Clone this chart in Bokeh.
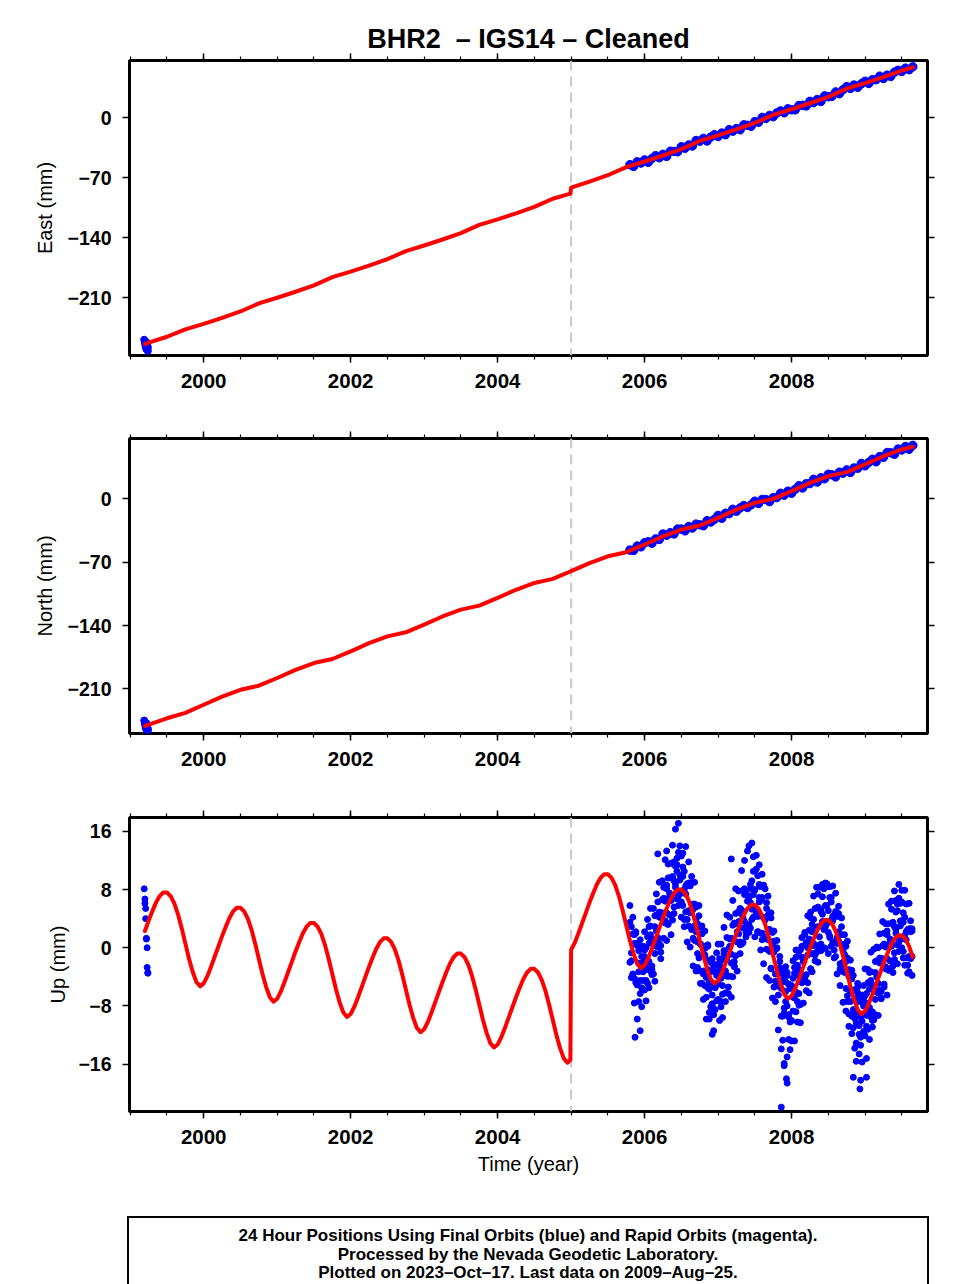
from bokeh.plotting import figure
from bokeh.models import FixedTicker, LinearAxis, Span, Range1d, Div
from bokeh.layouts import column
from bokeh.embed import file_html
from bokeh.resources import INLINE

FONT = "Liberation Sans"

# ---------------- axes / labels ----------------
title_text = "BHR2\u00a0\u00a0\u2013 IGS14 \u2013 Cleaned"
year_ticks = [2000, 2002, 2004, 2006, 2008]
half_year_ticks = [1999.0, 1999.5, 2000.0, 2000.5, 2001.0, 2001.5, 2002.0, 2002.5, 2003.0, 2003.5,
                   2004.0, 2004.5, 2005.0, 2005.5, 2006.0, 2006.5, 2007.0, 2007.5, 2008.0, 2008.5,
                   2009.0, 2009.5]
east_ticks = [-210, -140, -70, 0]
north_ticks = [-210, -140, -70, 0]
up_ticks = [-16, -8, 0, 8, 16]
step_epoch = 2005.0
footer_lines = ["24 Hour Positions Using Final Orbits (blue) and Rapid Orbits (magenta).",
                "Processed by the Nevada Geodetic Laboratory.",
                "Plotted on 2023\u2013Oct\u201317. Last data on 2009\u2013Aug\u201325."]

# ---------------- first epoch observations (1999) ----------------
early_t = [1999.19, 1999.20, 1999.20, 1999.21, 1999.21, 1999.22, 1999.22, 1999.23, 1999.23, 1999.24, 1999.24]
early_east = [-259, -261, -263, -265, -267, -270, -262, -264, -266, -268, -272]
early_north = [-245, -247, -249, -251, -253, -255, -248, -250, -252, -254, -256]
early_up = [8.1, 6.7, 6.1, 5.4, 4.0, 1.3, 1.2, 0.0, -2.7, -3.4, -3.5]

# ---------------- East / North model (red) ----------------
en_fit_t = [1999.20, 1999.25, 1999.50, 1999.75, 2000.00, 2000.25, 2000.50, 2000.75,
            2001.00, 2001.25, 2001.50, 2001.75, 2002.00, 2002.25, 2002.50, 2002.75,
            2003.00, 2003.25, 2003.50, 2003.75, 2004.00, 2004.25, 2004.50, 2004.75, 2004.99,
            2005.00, 2005.25, 2005.50, 2005.75, 2006.00, 2006.25, 2006.50, 2006.75,
            2007.00, 2007.25, 2007.50, 2007.75, 2008.00, 2008.25, 2008.50, 2008.75,
            2009.00, 2009.25, 2009.50, 2009.65]
east_fit = [-264.0, -262.5, -255.5, -247.0, -240.5, -233.5, -226.0, -216.5,
            -210.0, -203.0, -195.5, -186.0, -179.5, -172.5, -165.0, -155.5,
            -149.0, -142.0, -134.5, -125.0, -118.5, -111.5, -104.0, -94.5, -88.5,
            -81.5, -74.5, -67.0, -57.5, -51.0, -44.0, -36.5, -27.0,
            -20.5, -13.5, -6.0, 3.5, 10.0, 17.0, 24.5, 34.0,
            40.5, 47.5, 55.0, 59.0]
north_fit = [-251.0, -249.5, -242.5, -236.5, -227.5, -218.5, -211.0, -206.5,
             -198.0, -189.0, -181.5, -177.0, -168.5, -159.5, -152.0, -147.5,
             -139.0, -130.0, -122.5, -118.0, -109.5, -100.5, -93.0, -88.5, -80.3,
             -80.0, -71.0, -63.5, -59.0, -50.5, -41.5, -34.0, -29.5,
             -21.0, -12.0, -4.5, 0.0, 8.5, 17.5, 25.0, 29.5,
             38.0, 47.0, 54.5, 57.5]

# ---------------- East / North observations 2005.8-2009.65 ----------------
en_obs_t = [2005.80, 2005.85, 2005.90, 2005.95,
            2006.00, 2006.05, 2006.10, 2006.15, 2006.20, 2006.25, 2006.30, 2006.35, 2006.40, 2006.45,
            2006.50, 2006.55, 2006.60, 2006.65, 2006.70, 2006.75, 2006.80, 2006.85, 2006.90, 2006.95,
            2007.00, 2007.05, 2007.10, 2007.15, 2007.20, 2007.25, 2007.30, 2007.35, 2007.40, 2007.45,
            2007.50, 2007.55, 2007.60, 2007.65, 2007.70, 2007.75, 2007.80, 2007.85, 2007.90, 2007.95,
            2008.00, 2008.05, 2008.10, 2008.15, 2008.20, 2008.25, 2008.30, 2008.35, 2008.40, 2008.45,
            2008.50, 2008.55, 2008.60, 2008.65, 2008.70, 2008.75, 2008.80, 2008.85, 2008.90, 2008.95,
            2009.00, 2009.05, 2009.10, 2009.15, 2009.20, 2009.25, 2009.30, 2009.35, 2009.40, 2009.45,
            2009.50, 2009.55, 2009.60, 2009.65]
east_obs = [-54.7, -56.7, -51.4, -52.8,
            -49.1, -51.9, -47.4, -44.2, -46.6, -42.6, -45.0, -39.0, -39.2, -39.6,
            -33.7, -35.5, -31.6, -32.9, -26.5, -27.3, -24.0, -27.0, -22.5, -19.7,
            -21.9, -17.8, -19.7, -13.8, -15.6, -12.5, -13.9, -8.2, -8.8, -9.9,
            -4.4, -5.2, 0.5, -0.7, 2.8, 1.3, 5.7, 8.1, 5.9, 10.5,
            9.4, 9.3, 14.3, 14.6, 13.9, 19.2, 17.7, 21.4, 19.1, 25.6,
            24.6, 25.1, 30.2, 28.2, 32.8, 36.4, 34.3, 38.2, 35.6, 39.7,
            42.6, 40.1, 44.4, 44.5, 48.6, 45.9, 49.8, 48.3, 53.3, 55.5,
            54.1, 58.0, 56.2, 59.5]
north_obs = [-56.7, -57.0, -52.2, -53.1,
             -48.5, -47.4, -49.1, -44.3, -44.9, -39.0, -40.2, -37.4, -38.8, -33.4,
             -33.5, -35.4, -30.6, -32.3, -28.0, -28.8, -29.8, -24.2, -25.7, -22.6,
             -18.4, -21.6, -16.0, -16.4, -11.6, -13.7, -10.1, -7.5, -9.6, -6.6,
             -2.7, -5.1, -0.7, -0.9, -3.1, 1.2, 1.3, 6.1, 4.0, 8.4,
             6.1, 10.5, 14.4, 12.0, 16.7, 16.8, 21.5, 18.5, 23.3, 22.1,
             27.1, 26.5, 24.2, 29.4, 28.3, 31.9, 29.1, 34.0, 33.7, 39.1,
             36.4, 40.1, 43.6, 40.9, 46.6, 45.8, 51.1, 50.8, 49.2, 54.9,
             54.0, 57.7, 54.7, 59.0]

# ---------------- Up model (red) ----------------
up_fit_t = [1999.20, 1999.25, 1999.30, 1999.35, 1999.40, 1999.45, 1999.50, 1999.55,
            1999.60, 1999.65, 1999.70, 1999.75, 1999.80, 1999.85, 1999.90, 1999.95,
            2000.00, 2000.05, 2000.10, 2000.15, 2000.20, 2000.25, 2000.30, 2000.35, 2000.40, 2000.45,
            2000.50, 2000.55, 2000.60, 2000.65, 2000.70, 2000.75, 2000.80, 2000.85, 2000.90, 2000.95,
            2001.00, 2001.05, 2001.10, 2001.15, 2001.20, 2001.25, 2001.30, 2001.35, 2001.40, 2001.45,
            2001.50, 2001.55, 2001.60, 2001.65, 2001.70, 2001.75, 2001.80, 2001.85, 2001.90, 2001.95,
            2002.00, 2002.05, 2002.10, 2002.15, 2002.20, 2002.25, 2002.30, 2002.35, 2002.40, 2002.45,
            2002.50, 2002.55, 2002.60, 2002.65, 2002.70, 2002.75, 2002.80, 2002.85, 2002.90, 2002.95,
            2003.00, 2003.05, 2003.10, 2003.15, 2003.20, 2003.25, 2003.30, 2003.35, 2003.40, 2003.45,
            2003.50, 2003.55, 2003.60, 2003.65, 2003.70, 2003.75, 2003.80, 2003.85, 2003.90, 2003.95,
            2004.00, 2004.05, 2004.10, 2004.15, 2004.20, 2004.25, 2004.30, 2004.35, 2004.40, 2004.45,
            2004.50, 2004.55, 2004.60, 2004.65, 2004.70, 2004.75, 2004.80, 2004.85, 2004.90, 2004.95,
            2004.99,
            2005.00, 2005.05, 2005.10, 2005.15, 2005.20, 2005.25, 2005.30, 2005.35, 2005.40, 2005.45,
            2005.50, 2005.55, 2005.60, 2005.65, 2005.70, 2005.75, 2005.80, 2005.85, 2005.90, 2005.95,
            2006.00, 2006.05, 2006.10, 2006.15, 2006.20, 2006.25, 2006.30, 2006.35, 2006.40, 2006.45,
            2006.50, 2006.55, 2006.60, 2006.65, 2006.70, 2006.75, 2006.80, 2006.85, 2006.90, 2006.95,
            2007.00, 2007.05, 2007.10, 2007.15, 2007.20, 2007.25, 2007.30, 2007.35, 2007.40, 2007.45,
            2007.50, 2007.55, 2007.60, 2007.65, 2007.70, 2007.75, 2007.80, 2007.85, 2007.90, 2007.95,
            2008.00, 2008.05, 2008.10, 2008.15, 2008.20, 2008.25, 2008.30, 2008.35, 2008.40, 2008.45,
            2008.50, 2008.55, 2008.60, 2008.65, 2008.70, 2008.75, 2008.80, 2008.85, 2008.90, 2008.95,
            2009.00, 2009.05, 2009.10, 2009.15, 2009.20, 2009.25, 2009.30, 2009.35, 2009.40, 2009.45,
            2009.50, 2009.55, 2009.60, 2009.65]
up_fit = [2.3, 3.7, 5.0, 6.2, 7.1, 7.6, 7.6, 7.1, 6.1, 4.6, 2.7, 0.6, -1.5, -3.3, -4.7, -5.3,
          -4.9, -3.9, -2.6, -1.2, 0.2, 1.6, 2.9, 4.1, 5.0, 5.5, 5.5, 5.0, 4.0, 2.5, 0.6, -1.5, -3.6, -5.4, -6.8, -7.4,
          -7.0, -6.0, -4.7, -3.3, -1.9, -0.5, 0.8, 2.0, 2.9, 3.4, 3.4, 2.9, 1.9, 0.4, -1.5, -3.6, -5.7, -7.5, -8.9, -9.5,
          -9.1, -8.1, -6.8, -5.4, -4.0, -2.6, -1.3, -0.1, 0.8, 1.3, 1.3, 0.8, -0.2, -1.7, -3.6, -5.7, -7.8, -9.6, -11.0, -11.6,
          -11.2, -10.2, -8.9, -7.5, -6.1, -4.7, -3.4, -2.2, -1.3, -0.8, -0.8, -1.3, -2.3, -3.8, -5.7, -7.8, -9.9, -11.7, -13.1, -13.7,
          -13.3, -12.3, -11.0, -9.6, -8.2, -6.8, -5.5, -4.3, -3.4, -2.9, -2.9, -3.4, -4.4, -5.9, -7.8, -9.9, -12.0, -13.8, -15.2, -15.8,
          -15.4,
          -0.3, 0.7, 2.0, 3.4, 4.8, 6.2, 7.5, 8.7, 9.6, 10.1, 10.1, 9.6, 8.6, 7.1, 5.2, 3.1, 1.0, -0.8, -2.2, -2.8,
          -2.4, -1.4, -0.1, 1.3, 2.7, 4.1, 5.4, 6.6, 7.5, 8.0, 8.0, 7.5, 6.5, 5.0, 3.1, 1.0, -1.1, -2.9, -4.3, -4.9,
          -4.5, -3.5, -2.2, -0.8, 0.6, 2.0, 3.3, 4.5, 5.4, 5.9, 5.9, 5.4, 4.4, 2.9, 1.0, -1.1, -3.2, -5.0, -6.4, -7.0,
          -6.6, -5.6, -4.3, -2.9, -1.5, -0.1, 1.2, 2.4, 3.3, 3.8, 3.8, 3.3, 2.3, 0.8, -1.1, -3.2, -5.3, -7.1, -8.5, -9.1,
          -8.7, -7.7, -6.4, -5.0, -3.6, -2.2, -0.9, 0.3, 1.2, 1.7, 1.7, 1.2, 0.2, -1.3]

# ---------------- Up observations 2005.8-2009.64 (four solutions per date) ----------------
up_obs_t = [2005.80, 2005.82, 2005.84, 2005.86, 2005.88, 2005.90, 2005.92, 2005.94, 2005.96, 2005.98,
            2006.00, 2006.02, 2006.04, 2006.06, 2006.08, 2006.10, 2006.12, 2006.14, 2006.16, 2006.18,
            2006.20, 2006.22, 2006.24, 2006.26, 2006.28, 2006.30, 2006.32, 2006.34, 2006.36, 2006.38,
            2006.40, 2006.42, 2006.44, 2006.46, 2006.48, 2006.50, 2006.52, 2006.54, 2006.56, 2006.58,
            2006.60, 2006.62, 2006.64, 2006.66, 2006.68, 2006.70, 2006.72, 2006.74, 2006.76, 2006.78,
            2006.80, 2006.82, 2006.84, 2006.86, 2006.88, 2006.90, 2006.92, 2006.94, 2006.96, 2006.98,
            2007.00, 2007.02, 2007.04, 2007.06, 2007.08, 2007.10, 2007.12, 2007.14, 2007.16, 2007.18,
            2007.20, 2007.22, 2007.24, 2007.26, 2007.28, 2007.30, 2007.32, 2007.34, 2007.36, 2007.38,
            2007.40, 2007.42, 2007.44, 2007.46, 2007.48, 2007.50, 2007.52, 2007.54, 2007.56, 2007.58,
            2007.60, 2007.62, 2007.64, 2007.66, 2007.68, 2007.70, 2007.72, 2007.74, 2007.76, 2007.78,
            2007.80, 2007.82, 2007.84, 2007.86, 2007.88, 2007.90, 2007.92, 2007.94, 2007.96, 2007.98,
            2008.00, 2008.02, 2008.04, 2008.06, 2008.08, 2008.10, 2008.12, 2008.14, 2008.16, 2008.18,
            2008.20, 2008.22, 2008.24, 2008.26, 2008.28, 2008.30, 2008.32, 2008.34, 2008.36, 2008.38,
            2008.40, 2008.42, 2008.44, 2008.46, 2008.48, 2008.50, 2008.52, 2008.54, 2008.56, 2008.58,
            2008.60, 2008.62, 2008.64, 2008.66, 2008.68, 2008.70, 2008.72, 2008.74, 2008.76, 2008.78,
            2008.80, 2008.82, 2008.84, 2008.86, 2008.88, 2008.90, 2008.92, 2008.94, 2008.96, 2008.98,
            2009.00, 2009.02, 2009.04, 2009.06, 2009.08, 2009.10, 2009.12, 2009.14, 2009.16, 2009.18,
            2009.20, 2009.22, 2009.24, 2009.26, 2009.28, 2009.30, 2009.32, 2009.34, 2009.36, 2009.38,
            2009.40, 2009.42, 2009.44, 2009.46, 2009.48, 2009.50, 2009.52, 2009.54, 2009.56, 2009.58,
            2009.60, 2009.62, 2009.64]
up_obs_a = [3.5, -1.8, 1.9, -4.2, 0.6, -5.1, -0.4, -6.3, -1.2, -4.5,
            -1.2, -4.5, 1.5, -1.9, 1.8, -3.7, 1.0, 2.9, 0.2, 6.3, 0.5, 4.2, 6.6, 1.3, 6.4, 4.8, 9.6, 4.5, 7.1, 9.6,
            4.7, 8.8, 12.3, 7.1, 10.0, 6.3, 11.1, 8.0, 4.9, 8.7, 3.0, 8.5, 5.1, 6.0, 1.0, 3.9, 0.8, 4.4, -3.2, 0.3,
            -3.2, -0.1, -6.8, -3.0, -4.7, -2.0, -7.7, -5.3, -3.3, -7.3,
            -7.1, -2.5, -4.2, -6.4, -0.4, -3.2, -1.4, -5.4, 1.2, -2.1, 1.2, -2.6, 4.7, 0.8, 3.6, 0.4, 5.2, 4.1, 7.3, 1.5,
            7.2, 3.2, 6.2, 9.2, 4.2, 7.9, 4.8, 9.9, 6.3, 2.0, 6.9, 4.1, 1.3, 6.2, 1.2, 2.5, -2.9, 2.1, -0.6, -4.6,
            1.0, -5.3, -2.7, -4.8, -9.4, -4.0, -7.4, -3.8, -9.5, -5.6,
            -5.4, -8.7, -2.7, -6.1, -2.4, -7.9, -3.2, -1.3, -4.0, 2.1, -3.7, 0.0, 2.4, -2.9, 2.2, 0.6, 5.4, 0.3, 2.9, 5.4,
            0.5, 4.6, 8.1, 2.9, 5.8, 2.1, 6.9, 3.8, 0.7, 4.5, -1.2, 4.3, 0.9, 1.8, -3.2, -0.3, -3.4, 0.2, -7.4, -3.9,
            -7.4, -4.3, -11.0, -7.2, -8.9, -6.2, -11.9, -9.5, -7.5, -11.5,
            -7.5, -10.8, -4.8, -8.2, -4.5, -10.0, -5.3, -3.4, -6.1, 0.0, -5.8, -2.1, 0.3, -5.0, 0.1, -1.5, 3.3, -1.8, 0.8, 3.3,
            -1.6, 2.5, 6.0, 0.8, 3.7, 0.0, 4.8, 1.7, -1.4, 2.4, -3.3, 2.2, -1.2]
up_obs_b = [-2.0, 2.9, -3.6, 1.8, -4.8, 0.3, -7.4, 1.1, -5.5, 0.2,
            -5.8, 0.0, -2.7, 2.9, -3.2, 1.2, -3.6, 4.4, 2.3, 0.1, 4.9, -0.6, 4.8, 8.3, 3.4, 8.1, 3.2, 7.0, 11.6, 3.8,
            9.2, 11.2, 6.7, 13.1, 7.6, 12.6, 5.8, 10.5, 8.5, 3.9, 8.9, 4.8, 8.9, 1.3, 6.0, 2.2, 3.3, -1.4, 2.8, -4.9,
            0.2, -5.2, -1.6, -5.5, -8.9, -3.2, -6.5, -9.2, -2.3, -3.8,
            -3.6, -1.5, -8.1, -5.2, -1.6, -7.4, -3.9, -0.2, -3.9, 1.3, -4.0, 3.4, -1.1, 3.3, 1.9, 5.4, 0.5, 7.9, 3.6, 7.4,
            2.4, 6.8, 8.7, 3.9, 10.5, 5.5, 10.8, 4.3, 8.7, 6.5, 1.1, 8.6, 3.8, -0.2, 4.5, -0.5, 4.1, 0.3, -5.4, -0.2,
            -5.2, -3.2, -1.2, -9.4, -4.5, -9.0, -2.6, -8.0, -5.0, -10.2,
            -10.0, -4.2, -6.9, -1.3, -7.4, -3.0, -7.8, 0.2, -1.9, -4.1, 0.7, -4.8, 0.6, 4.1, -0.8, 3.9, -1.0, 2.8, 7.4, -0.4,
            5.0, 7.0, 2.5, 8.9, 3.4, 8.4, 1.6, 6.3, 4.3, -0.3, 4.7, 0.6, 4.7, -2.9, 1.8, -2.0, -0.9, -5.6, -1.4, -9.1,
            -4.0, -9.4, -5.8, -9.7, -13.1, -7.4, -10.7, -13.4, -6.5, -8.0,
            -12.1, -6.3, -9.0, -3.4, -9.5, -5.1, -9.9, -1.9, -4.0, -6.2, -1.4, -6.9, -1.5, 2.0, -2.9, 1.8, -3.1, 0.7, 5.3, -2.5,
            2.9, 4.9, 0.4, 6.8, 1.3, 6.3, -0.5, 4.2, 2.2, -2.4, 2.6, -1.5, 2.6]
up_obs_c = [5.8, -4.1, 4.2, -7.6, 2.2, -9.8, -3.3, -11.4, -8.1, -2.0,
            2.2, -7.3, 3.9, -5.5, 5.4, -3.0, 5.4, -4.6, 7.4, 0.8, 9.0, -1.5, 9.2, 3.6, 12.1, 1.0, 11.5, 9.6, 1.8, 14.1,
            11.8, 16.3, 10.5, 17.1, 14.0, 4.2, 13.0, 2.9, 13.9, 0.8, 11.8, 0.1, 9.8, -2.5, 9.0, -3.2, -2.7, 5.8, -4.9, 3.0,
            -7.1, 2.3, -9.8, 0.4, -9.8, -8.1, -1.5, -11.4, -8.5, -0.7,
            0.5, -10.0, 0.5, -9.6, 2.8, -6.2, 4.5, -6.3, 4.2, -6.8, 6.5, -2.5, 8.1, -3.2, 7.8, -0.8, 10.6, 0.7, 12.0, 2.1,
            13.3, 14.0, 2.7, 14.4, 12.5, 1.5, 12.7, 2.2, 11.4, -0.3, 10.1, -2.2, 8.1, -4.1, 7.1, -4.5, 4.8, -6.9, 2.3, -7.4,
            -0.1, -11.3, -1.9, -13.9, -12.7, -16.2, -4.7, -15.0, -12.6, -14.0,
            -12.8, -1.8, -12.8, -0.3, -10.2, -0.5, -10.3, 1.4, -7.6, 1.8, -5.9, 4.4, -6.2, 4.9, -3.3, 7.1, -1.8, 8.3, -2.0, 8.3,
            -0.4, 8.7, 8.6, -0.1, 8.8, -0.8, 8.4, 0.2, 8.5, -1.4, 7.5, -3.6, 5.7, -5.2, 4.1, -7.5, 1.8, -8.7, 0.9, -10.8,
            -1.7, -11.8, -3.8, -13.8, -15.6, -5.4, -14.6, -18.2, -15.7, -5.2,
            -2.9, -15.2, -3.0, -12.6, -0.6, -10.9, -0.2, -9.2, 0.1, -9.3, 1.9, -7.0, 3.6, -5.4, 3.3, -6.5, 6.0, -2.9, 6.4, -3.4,
            7.8, 6.5, -2.2, 8.7, 6.1, 7.9, -1.4, 7.9, 6.0, -3.5, 6.1, 3.7, 2.3]
up_obs_d = [3.1, -0.7, -3.7, 0.6, 2.0, -4.6, -2.1, -4.5, 0.2, -3.3,
            -0.3, -3.0, -4.9, 0.6, 3.0, -2.5, 0.9, -0.8, 4.5, 1.4, 4.2, 0.3, 4.7, 6.8, 3.7, 8.6, 3.3, 7.5, 6.5, 9.8,
            5.6, 8.3, 11.4, 5.8, 9.3, 7.5, 9.8, 3.9, 7.4, 8.8, 5.1, 8.9, 2.5, 5.3, 3.0, 5.6, -0.8, 3.0, 0.5, 1.9,
            -3.6, -1.0, -4.1, 0.2, -5.7, -3.3, -8.0, -2.5, -5.5, -3.3,
            -5.0, -2.1, -7.4, -3.1, -0.8, -3.6, 1.4, -3.9, 0.2, -0.9, 3.1, -1.9, 3.3, 2.2, 5.0, 0.8, 4.6, 2.7, 8.1, 3.0,
            6.4, 2.1, 8.1, 5.3, 7.3, 8.0, 4.7, 2.2, 6.9, 8.4, 2.0, 4.2, 1.4, 5.4, 1.1, 2.5, -2.8, 0.2, 0.9, -3.6,
            0.0, -6.5, -3.5, -5.6, -3.1, -8.3, -6.0, -3.4, -9.2, -5.5,
            -5.2, -6.8, -3.5, -8.8, -3.8, -6.3, -0.3, -4.8, -1.8, -4.6, 0.7, -1.0, 1.2, -2.9, 3.2, 0.3, 2.4, -0.6, 5.6, 1.5,
            5.2, 3.6, 0.0, 5.8, 3.3, 5.1, 1.4, 6.9, 3.7, 0.8, 5.0, 1.4, 2.2, -2.2, 2.9, -2.3, 0.5, -1.9, -6.6, -3.0,
            -6.0, -3.1, -8.5, -7.0, -10.3, -4.9, -7.0, -12.3, -10.1, -6.8,
            -6.6, -9.3, -11.2, -5.7, -3.3, -8.8, -5.4, -7.1, -1.8, -4.9, -2.1, -6.0, -1.6, 0.5, -2.6, 2.3, -3.0, 1.2, 0.2, 3.5,
            -0.7, 2.0, 5.1, -0.5, 3.0, 1.2, 3.5, -2.4, 1.1, 2.5, -1.2, 2.6, -3.8]
up_out_t = [2005.87, 2006.18, 2006.30, 2006.92, 2007.18, 2007.86, 2007.90, 2007.93, 2007.94, 2008.84, 2008.93, 2009.02]
up_out_v = [-12.3, 12.9, 13.3, -11.9, 12.2, -21.9, -15.9, -18.0, -18.6, -17.8, -19.4, -17.8]

BLUE = "#0000ff"
RED = "#ff0000"


def style_axis(ax, labels=True, standoff=8, size="19.5px"):
    ax.axis_line_color = None
    ax.major_tick_in = 0
    ax.major_tick_out = 7
    ax.major_tick_line_width = 1.5
    ax.major_tick_line_color = "black"
    ax.minor_tick_in = 0
    ax.minor_tick_out = 4
    ax.minor_tick_line_width = 1.2
    ax.minor_tick_line_color = "black"
    ax.major_label_text_font = FONT
    ax.major_label_text_font_style = "bold"
    ax.major_label_text_color = "black"
    ax.major_label_standoff = standoff
    if labels:
        ax.major_label_text_font_size = size
    else:
        ax.major_label_text_font_size = "0px"
        ax.major_label_standoff = 0
    ax.axis_label_text_font = FONT
    ax.axis_label_text_font_size = "20px"
    ax.axis_label_text_font_style = "normal"
    ax.axis_label_text_color = "black"


def panel(height, yr, top, bottom, yticks, ylabel, label_gap, xlabel=None, title=None):
    kw = dict(title=title, title_location="above") if title else dict(title_location=None)
    p = figure(width=958, height=height, x_range=Range1d(1998.99, 2009.85), y_range=Range1d(*yr),
               output_backend="svg", toolbar_location=None,
               min_border_left=129, min_border_right=31, min_border_top=top, min_border_bottom=bottom,
               x_axis_location=None, y_axis_location=None, **kw)
    p.grid.visible = False
    p.outline_line_color = "black"
    p.outline_line_width = 3
    p.background_fill_color = "white"
    p.border_fill_color = "white"
    if title:
        p.title.align = "center"
        p.title.text_font = FONT
        p.title.text_font_size = "27px"
        p.title.text_font_style = "bold"
        p.title.text_color = "black"
        p.title.standoff = 0
        p.title.offset = 0
    overrides = {t: str(t).replace("-", "\u2212") for t in yticks}
    bx = LinearAxis(ticker=FixedTicker(ticks=year_ticks, minor_ticks=half_year_ticks))
    style_axis(bx, True, 11, "20.5px")
    if xlabel:
        bx.axis_label = xlabel
        bx.axis_label_standoff = 6
    p.add_layout(bx, "below")
    tx = LinearAxis(ticker=FixedTicker(ticks=year_ticks, minor_ticks=half_year_ticks),
                    major_label_overrides={t: "" for t in year_ticks})
    style_axis(tx, False)
    p.add_layout(tx, "above")
    ly = LinearAxis(ticker=FixedTicker(ticks=yticks, minor_ticks=[]), major_label_overrides=overrides,
                    axis_label=ylabel)
    style_axis(ly, True, 11, "19.5px")
    ly.axis_label_standoff = label_gap
    p.add_layout(ly, "left")
    ry = LinearAxis(ticker=FixedTicker(ticks=yticks, minor_ticks=[]),
                    major_label_overrides={t: "" for t in yticks})
    style_axis(ry, False)
    p.add_layout(ry, "right")
    p.add_layout(Span(location=step_epoch, dimension="height", line_color="#c8c8c8",
                      line_width=2, line_dash="10 6", level="underlay"))
    return p


p1 = panel(403, (-277.4, 66.9), 60, 48, east_ticks, "East (mm)", 9, title=title_text)
p1.scatter(early_t, early_east, size=7, color=BLUE)
p1.scatter(en_obs_t, east_obs, size=8.5, color=BLUE)
p1.line(en_fit_t, east_fit, line_width=4, color=RED, line_join="round", line_cap="round")

p2 = panel(379, (-259.3, 66.6), 35, 49, north_ticks, "North (mm)", 9)
p2.scatter(early_t, early_north, size=7, color=BLUE)
p2.scatter(en_obs_t, north_obs, size=8.5, color=BLUE)
p2.line(en_fit_t, north_fit, line_width=4, color=RED, line_join="round", line_cap="round")

p3 = panel(418, (-22.5, 17.9), 35, 89, up_ticks, "Up (mm)", 6, xlabel="Time (year)")
p3.scatter(early_t, early_up, size=6, color=BLUE)
for obs in (up_obs_a, up_obs_b, up_obs_c, up_obs_d):
    p3.scatter(up_obs_t, obs, size=6, color=BLUE)
p3.scatter(up_out_t, up_out_v, size=6, color=BLUE)
p3.line(up_fit_t, up_fit, line_width=4, color=RED, line_join="round", line_cap="round")

# footer box (open at the bottom, as in the original page)
footer_html = (
    "<div style=\"margin:16px 0 0 127px; width:798px; height:70px; border:2px solid #000; "
    "border-bottom:none; text-align:center; font-family:'Liberation Sans', Arial, sans-serif; "
    "font-weight:bold; font-size:17px; line-height:18.5px; padding-top:9px; color:#000; "
    "box-sizing:content-box;\">"
    + "<br>".join(footer_lines)
    + "</div>"
)
p4 = Div(text=footer_html, width=958, height=84, margin=(0, 0, 0, 0))

layout = column(p1, p2, p3, p4, spacing=0)
open("out.html", "w").write(file_html(layout, INLINE))
